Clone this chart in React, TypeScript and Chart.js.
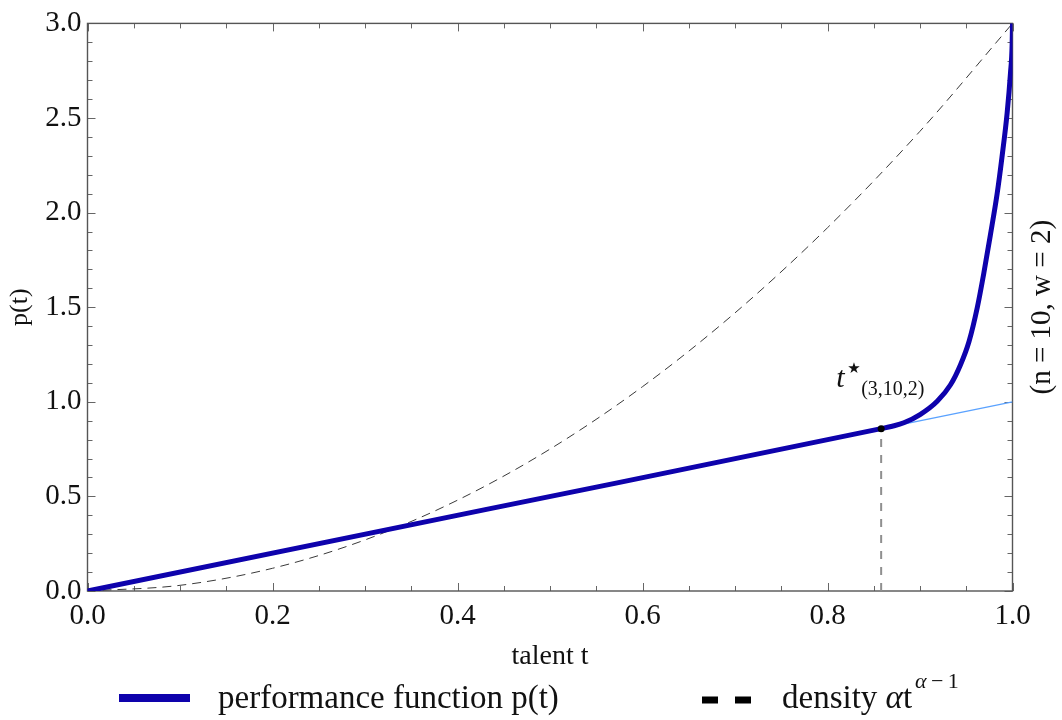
import React, { useEffect, useRef } from "react";
import { Chart, registerables } from "chart.js";

Chart.register(...registerables);

// ---- data ----
const perfT = [0, 0.43, 0.858, 0.87, 0.8825, 0.9005, 0.9186, 0.933, 0.9438, 0.953, 0.962, 0.969, 0.976, 0.9834, 0.9888, 0.9942, 0.9978, 0.9996, 1.0];
const perfP = [0, 0.43, 0.858, 0.871, 0.889, 0.934, 1.003, 1.09, 1.196, 1.319, 1.5, 1.68, 1.879, 2.1, 2.3, 2.527, 2.737, 2.89, 3.0];

const densT = [0, 0.1, 0.2, 0.3, 0.4, 0.5, 0.6, 0.7, 0.8, 0.9, 1.0];
const densP = [0, 0.03, 0.12, 0.27, 0.48, 0.75, 1.08, 1.47, 1.92, 2.43, 3.0];

const refT = [0, 1];
const refP = [0, 1];

const tStar = 0.858;
const tStarP = 0.858;

const xTickLabels = ["0.0", "0.2", "0.4", "0.6", "0.8", "1.0"];
const yTickLabels = ["0.0", "0.5", "1.0", "1.5", "2.0", "2.5", "3.0"];

const BLUE = "#0e02ac";
const LIGHT_BLUE = "#5aa2ff";
const SERIF = '"Liberation Serif", "DejaVu Serif", serif';

const zip = (xs: number[], ys: number[]) => xs.map((x, i) => ({ x, y: ys[i] }));

const decor = {
  id: "decor",
  beforeDatasetsDraw(chart: any) {
    const { ctx, chartArea: a, scales } = chart;
    const x = scales.x;
    const y = scales.y;
    ctx.save();
    // inward ticks on all four sides
    ctx.strokeStyle = "#666";
    ctx.lineWidth = 1;
    ctx.beginPath();
    for (let i = 0; i <= 20; i++) {
      const px = Math.round(x.getPixelForValue(i / 20)) + 0.5;
      const len = i % 4 === 0 ? 8 : 5;
      ctx.moveTo(px, a.bottom);
      ctx.lineTo(px, a.bottom - len);
      ctx.moveTo(px, a.top);
      ctx.lineTo(px, a.top + len);
    }
    for (let i = 0; i <= 30; i++) {
      const py = Math.round(y.getPixelForValue(i / 10)) + 0.5;
      const len = i % 5 === 0 ? 8 : 5;
      ctx.moveTo(a.left, py);
      ctx.lineTo(a.left + len, py);
      ctx.moveTo(a.right, py);
      ctx.lineTo(a.right - len, py);
    }
    ctx.stroke();
    // frame
    ctx.strokeStyle = "#555";
    ctx.lineWidth = 1.4;
    ctx.strokeRect(a.left, a.top, a.right - a.left, a.bottom - a.top);
    ctx.restore();
  },
  afterDraw(chart: any) {
    const { ctx, chartArea: a, scales } = chart;
    const x = scales.x;
    const y = scales.y;
    ctx.save();
    ctx.fillStyle = "#111";
    ctx.textBaseline = "alphabetic";

    // x-axis title
    ctx.font = `28px ${SERIF}`;
    ctx.textAlign = "center";
    ctx.fillText("talent t", (a.left + a.right) / 2, 664);

    // right rotated label
    ctx.save();
    ctx.translate(1042, (a.top + a.bottom) / 2);
    ctx.rotate(-Math.PI / 2);
    ctx.textAlign = "center";
    ctx.textBaseline = "middle";
    ctx.font = `29px ${SERIF}`;
    ctx.fillText("(n = 10, w = 2)", 0, 0);
    ctx.restore();

    // t* annotation
    const px = x.getPixelForValue(tStar);
    const py = y.getPixelForValue(tStarP);
    ctx.textAlign = "left";
    ctx.font = `italic 30px ${SERIF}`;
    ctx.fillText("t", px - 45, py - 42);
    ctx.font = `15px "DejaVu Sans", sans-serif`;
    ctx.fillText("★", px - 34, py - 56);
    ctx.font = `20px ${SERIF}`;
    ctx.fillText("(3,10,2)", px - 20, py - 34);

    // legend
    ctx.strokeStyle = BLUE;
    ctx.lineWidth = 8;
    ctx.lineCap = "butt";
    ctx.beginPath();
    ctx.moveTo(119, 698);
    ctx.lineTo(190, 698);
    ctx.stroke();
    ctx.font = `33px ${SERIF}`;
    ctx.fillText("performance function p(t)", 218, 708);

    ctx.strokeStyle = "#000";
    ctx.lineWidth = 7;
    ctx.beginPath();
    ctx.moveTo(702, 700);
    ctx.lineTo(718, 700);
    ctx.moveTo(735, 700);
    ctx.lineTo(751, 700);
    ctx.stroke();

    let cx = 782;
    ctx.font = `33px ${SERIF}`;
    const s1 = "density ";
    ctx.fillText(s1, cx, 708);
    cx += ctx.measureText(s1).width;
    ctx.font = `italic 33px ${SERIF}`;
    ctx.fillText("α", cx, 708);
    cx += ctx.measureText("α").width;
    ctx.font = `33px ${SERIF}`;
    ctx.fillText("t", cx, 708);
    cx += ctx.measureText("t").width + 3;
    ctx.font = `italic 22px ${SERIF}`;
    ctx.fillText("α", cx, 688);
    cx += ctx.measureText("α").width;
    ctx.font = `22px ${SERIF}`;
    ctx.fillText("\u2009−\u20091", cx, 688);

    ctx.restore();
  },
};

export default function App() {
  const ref = useRef<HTMLCanvasElement | null>(null);

  useEffect(() => {
    if (!ref.current) return;
    const chart = new Chart(ref.current, {
      type: "line",
      data: {
        datasets: [
          {
            label: "t*",
            data: [{ x: tStar, y: tStarP }],
            showLine: false,
            pointRadius: 3.5,
            pointBackgroundColor: "#000",
            pointBorderColor: "#000",
            borderWidth: 0,
            order: 0,
          },
          {
            label: "performance function p(t)",
            data: zip(perfT, perfP),
            borderColor: BLUE,
            borderWidth: 5,
            pointRadius: 0,
            cubicInterpolationMode: "monotone",
            borderCapStyle: "round",
            borderJoinStyle: "round",
            order: 1,
          },
          {
            label: "t* marker",
            data: [
              { x: tStar, y: 0 },
              { x: tStar, y: tStarP },
            ],
            borderColor: "#8f8f8f",
            borderWidth: 2,
            borderDash: [8, 8],
            pointRadius: 0,
            order: 2,
          },
          {
            label: "density",
            data: zip(densT, densP),
            borderColor: "#3a3a3a",
            borderWidth: 1,
            borderDash: [9, 6],
            pointRadius: 0,
            cubicInterpolationMode: "monotone",
            order: 3,
          },
          {
            label: "p = t",
            data: zip(refT, refP),
            borderColor: LIGHT_BLUE,
            borderWidth: 1.3,
            pointRadius: 0,
            order: 4,
          },
        ],
      },
      options: {
        animation: false,
        responsive: true,
        maintainAspectRatio: false,
        layout: { padding: { left: 0, top: 20, right: 49.5, bottom: 0 } },
        plugins: {
          legend: { display: false },
          tooltip: { enabled: false },
        },
        scales: {
          x: {
            type: "linear",
            min: 0,
            max: 1,
            grid: { display: false, drawTicks: false },
            border: { display: false },
            ticks: {
              stepSize: 0.2,
              padding: 8,
              color: "#111",
              font: { family: "Liberation Serif", size: 29 },
              callback: (v: any) => {
                const i = Math.round(Number(v) / 0.2);
                return xTickLabels[i] ?? "";
              },
            },
            afterFit: (s: any) => {
              s.height = 129;
            },
          },
          y: {
            type: "linear",
            min: 0,
            max: 3,
            grid: { display: false, drawTicks: false },
            border: { display: false },
            title: {
              display: true,
              text: "p(t)",
              color: "#111",
              font: { family: "Liberation Serif", size: 26 },
              padding: { top: 5, bottom: 4 },
            },
            ticks: {
              stepSize: 0.5,
              padding: 6,
              color: "#111",
              font: { family: "Liberation Serif", size: 29 },
              callback: (v: any) => {
                const i = Math.round(Number(v) / 0.5);
                return yTickLabels[i] ?? "";
              },
            },
            afterFit: (s: any) => {
              s.width = 87.5;
            },
          },
        },
      },
      plugins: [decor],
    });
    return () => chart.destroy();
  }, []);

  return (
    <div style={{ position: "fixed", left: 0, top: 0, width: 1062, height: 720, background: "#fff" }}>
      <canvas ref={ref} />
    </div>
  );
}
